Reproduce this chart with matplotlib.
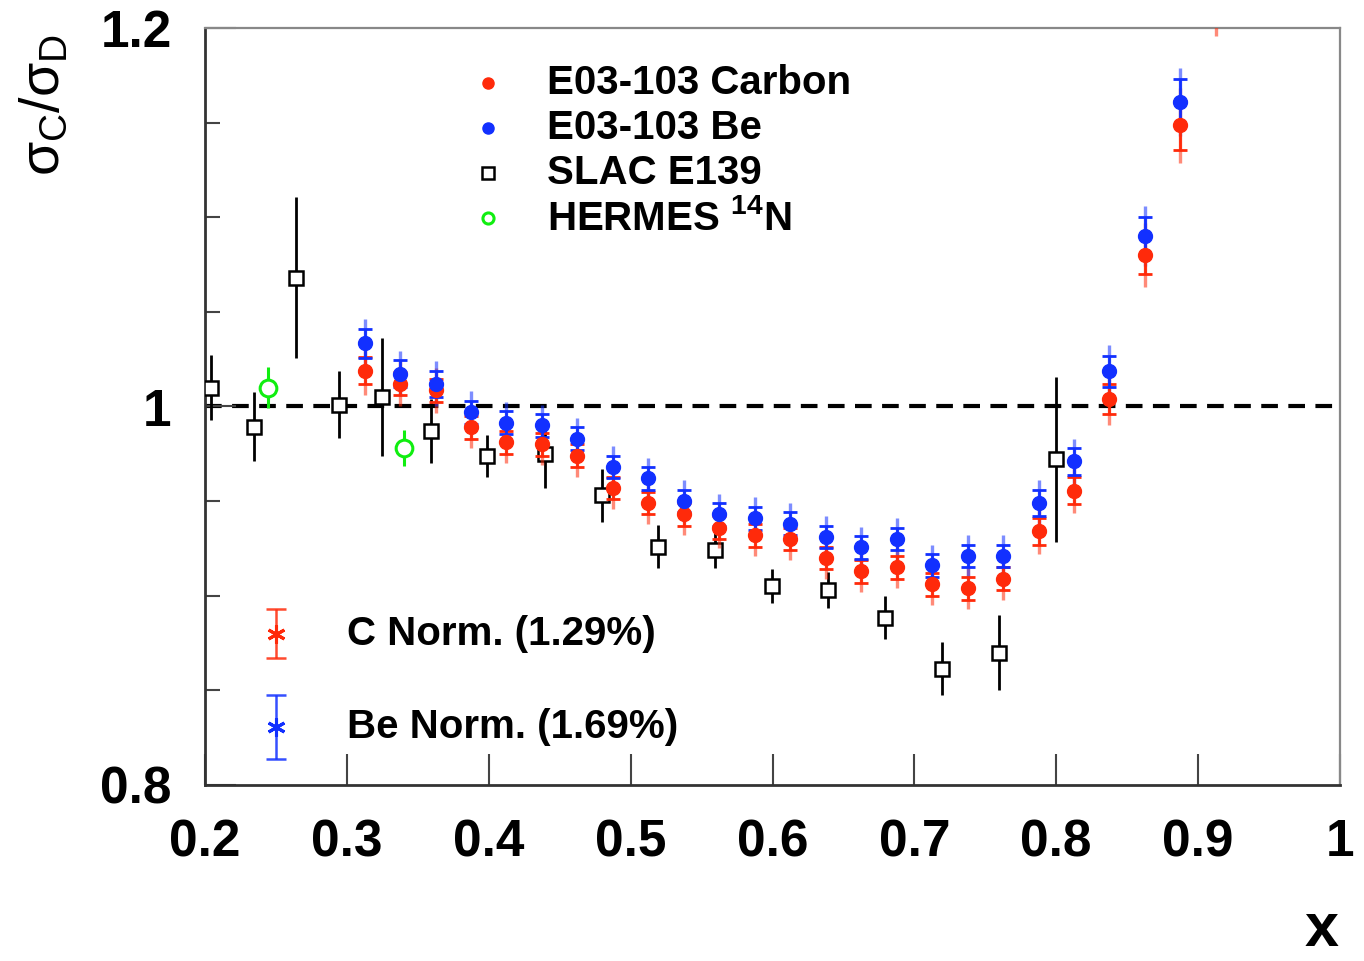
import matplotlib
matplotlib.use("Agg")
import matplotlib.pyplot as plt
from matplotlib.ticker import MultipleLocator

plt.rcParams['font.family'] = ['Liberation Sans', 'DejaVu Sans']
plt.rcParams['mathtext.fontset'] = 'custom'
plt.rcParams['mathtext.rm'] = 'Liberation Sans'
plt.rcParams['mathtext.it'] = 'Liberation Sans'
plt.rcParams['mathtext.bf'] = 'Liberation Sans:bold'

# ---------------- data ----------------
x_carbon = [0.3125, 0.3375, 0.3625, 0.3875, 0.4125, 0.4375, 0.4625, 0.4875,
            0.5125, 0.5375, 0.5625, 0.5875, 0.6125, 0.6375, 0.6625, 0.6875,
            0.7125, 0.7375, 0.7625, 0.7875, 0.8125, 0.8375, 0.8625, 0.8875, 0.9125]
r_carbon = [1.019, 1.012, 1.0085, 0.989, 0.981, 0.980, 0.974, 0.957,
            0.949, 0.943, 0.936, 0.932, 0.930, 0.920, 0.913, 0.915,
            0.906, 0.904, 0.909, 0.934, 0.9556, 1.004, 1.080, 1.1485, 1.222]
stat_carbon = [0.007, 0.006, 0.006, 0.006, 0.006, 0.006, 0.006, 0.006,
               0.006, 0.006, 0.006, 0.006, 0.006, 0.006, 0.006, 0.006,
               0.006, 0.006, 0.006, 0.007, 0.007, 0.008, 0.010, 0.013, 0.015]
tot_carbon = [0.013, 0.012, 0.012, 0.011, 0.011, 0.011, 0.011, 0.011,
              0.011, 0.011, 0.011, 0.011, 0.011, 0.011, 0.011, 0.011,
              0.011, 0.011, 0.011, 0.012, 0.012, 0.014, 0.017, 0.020, 0.026]

x_be = [0.3125, 0.3375, 0.3625, 0.3875, 0.4125, 0.4375, 0.4625, 0.4875,
        0.5125, 0.5375, 0.5625, 0.5875, 0.6125, 0.6375, 0.6625, 0.6875,
        0.7125, 0.7375, 0.7625, 0.7875, 0.8125, 0.8375, 0.8625, 0.8875]
r_be = [1.0333, 1.0174, 1.012, 0.997, 0.9915, 0.990, 0.983, 0.968,
        0.962, 0.950, 0.943, 0.941, 0.938, 0.931, 0.9255, 0.930,
        0.916, 0.921, 0.921, 0.949, 0.971, 1.0185, 1.090, 1.161]
stat_be = [0.0075, 0.007, 0.007, 0.006, 0.006, 0.006, 0.006, 0.006,
           0.006, 0.006, 0.006, 0.006, 0.006, 0.006, 0.006, 0.006,
           0.006, 0.006, 0.006, 0.007, 0.007, 0.008, 0.010, 0.012]
tot_be = [0.013, 0.012, 0.012, 0.011, 0.011, 0.011, 0.011, 0.011,
          0.011, 0.011, 0.011, 0.011, 0.011, 0.011, 0.011, 0.011,
          0.011, 0.011, 0.011, 0.012, 0.012, 0.014, 0.016, 0.018]

x_slac = [0.2042, 0.2345, 0.264, 0.2944, 0.3247, 0.359, 0.3988, 0.4396,
          0.4798, 0.519, 0.5594, 0.5997, 0.639, 0.679, 0.7195, 0.7597, 0.7998]
r_slac = [1.010, 0.9894, 1.068, 1.001, 1.005, 0.987, 0.974, 0.975,
          0.953, 0.926, 0.924, 0.905, 0.903, 0.8885, 0.8615, 0.870, 0.972]
err_slac = [0.017, 0.018, 0.0425, 0.0175, 0.031, 0.017, 0.011, 0.018,
            0.014, 0.0116, 0.0095, 0.009, 0.0095, 0.0116, 0.014, 0.0196, 0.0436]

x_hermes = [0.2444, 0.340]
r_hermes = [1.010, 0.978]
err_hermes = [0.011, 0.0095]

norm_labels = ["C Norm. (1.29%)", "Be Norm. (1.69%)"]
norm_values = [0.0129, 0.0169]
legend_labels = ["E03-103 Carbon", "E03-103 Be", "SLAC E139", "HERMES $^{\\mathbf{14}}$N"]

RED = '#ff2a0a'
BLUE = '#1230ff'
GREEN = '#10ee10'

# ---------------- figure ----------------
fig = plt.figure(figsize=(13.64, 9.61), dpi=100)
ax = fig.add_axes([205/1364, 1 - 785/961, (1340-205)/1364, (785-28)/961])
ax.set_xlim(0.2, 1.0)
ax.set_ylim(0.8, 1.2)

# reference line
ax.axhline(1.0, color='black', ls=(0, (4, 2.5)), lw=3.0, zorder=1)

# SLAC E139
ax.errorbar(x_slac, r_slac, yerr=err_slac, fmt='s', mfc='white', mec='black',
            mew=1.8, ms=10, ecolor='black', elinewidth=2.0, capsize=0, zorder=3)
# HERMES
ax.errorbar(x_hermes, r_hermes, yerr=err_hermes, fmt='o', mfc='white', mec=GREEN,
            mew=2.2, ms=12, ecolor=GREEN, elinewidth=2.2, capsize=0, zorder=3)

# E03-103 Carbon and Be: total (light) and statistical (capped)
for xs, ys, st, tt, col in [(x_carbon, r_carbon, stat_carbon, tot_carbon, RED),
                            (x_be, r_be, stat_be, tot_be, BLUE)]:
    ax.errorbar(xs, ys, yerr=tt, fmt='none', ecolor=col, elinewidth=2.4,
                alpha=0.55, capsize=0, zorder=4)
    ax.errorbar(xs, ys, yerr=st, fmt='o', color=col, ms=10, mec=col,
                ecolor=col, elinewidth=2.0, capsize=5, capthick=2.0, zorder=5)

# normalisation error markers
norm_x = [0.25, 0.25]
norm_y = [0.880, 0.8305]
for nx, ny, nv, nl, col in zip(norm_x, norm_y, norm_values, norm_labels, [RED, BLUE]):
    ax.errorbar([nx], [ny], yerr=[nv], fmt='none', ecolor=col, elinewidth=1.8,
                capsize=7, capthick=1.8, alpha=0.85, zorder=5)
    ax.plot([nx], [ny], marker=(6, 2, 0), color=col, ms=13, mew=2.2, ls='none', zorder=6)
    ax.text(0.3, ny, nl, fontsize=29, fontweight='bold', va='center', ha='left')

# legend (drawn manually in data coords)
leg_x = 0.3995
leg_tx = 0.441
leg_y = [1.171, 1.147, 1.1235, 1.0995]
ax.plot([leg_x], [leg_y[0]], 'o', color=RED, ms=8)
ax.plot([leg_x], [leg_y[1]], 'o', color=BLUE, ms=8)
ax.plot([leg_x], [leg_y[2]], 's', mfc='white', mec='black', mew=1.8, ms=8)
ax.plot([leg_x], [leg_y[3]], 'o', mfc='white', mec=GREEN, mew=2.2, ms=8)
for ly, lab in zip(leg_y, legend_labels):
    ax.text(leg_tx, ly, lab, fontsize=29, fontweight='bold', va='center', ha='left')

# axes styling
ax.xaxis.set_major_locator(MultipleLocator(0.1))
ax.yaxis.set_major_locator(MultipleLocator(0.2))
ax.yaxis.set_minor_locator(MultipleLocator(0.05))
ax.tick_params(axis='both', which='major', direction='in', length=22, width=1.5,
               color='#444444', labelsize=37)
ax.tick_params(axis='x', which='major', pad=24)
ax.tick_params(axis='y', which='major', pad=24)
ax.tick_params(axis='y', which='minor', direction='in', length=11, width=1.5, color='#444444')
ax.tick_params(top=False, right=False)
ax.set_xticks([0.2, 0.3, 0.4, 0.5, 0.6, 0.7, 0.8, 0.9, 1.0])
ax.set_xticklabels(['0.2', '0.3', '0.4', '0.5', '0.6', '0.7', '0.8', '0.9', '1'],
                   fontweight='bold')
ax.set_yticks([0.8, 1.0, 1.2])
ax.set_yticklabels(['0.8', '1', '1.2'], fontweight='bold')
for sp in ['left', 'bottom']:
    ax.spines[sp].set_color('#333333')
    ax.spines[sp].set_linewidth(2.0)
for sp in ['top', 'right']:
    ax.spines[sp].set_color('#888888')
    ax.spines[sp].set_linewidth(1.6)

# axis titles
fig.text(45/1364, 1 - 105/961, r'$\sigma_C/\sigma_D$', rotation=90, fontsize=40,
         ha='center', va='center')
fig.text(1322/1364, 1 - 946/961, 'x', fontsize=44, fontweight='bold',
         ha='center', va='baseline')

fig.savefig('out.png', dpi=100)
